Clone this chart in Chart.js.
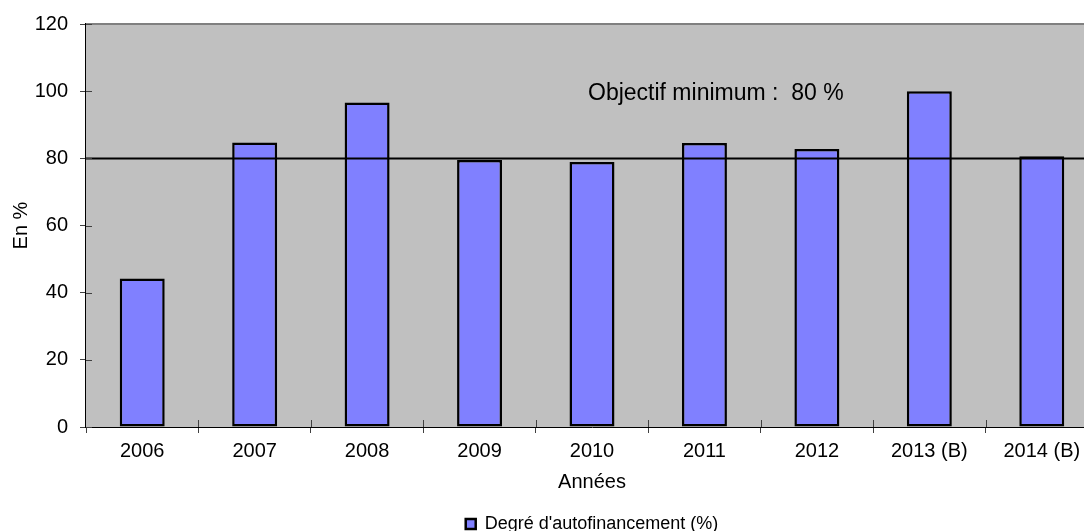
<!DOCTYPE html>
<html lang="fr">
<head>
<meta charset="utf-8">
<title>Degré d'autofinancement</title>
<script src="https://cdn.jsdelivr.net/npm/chart.js@4/dist/chart.umd.min.js"></script>
<style>
    html, body { margin: 0; padding: 0; background: #fff; overflow: hidden; }
    #wrap { position: relative; width: 1100px; height: 531px; }
</style>
</head>
<body>
<div id="wrap"><canvas id="chart"></canvas></div>
<script>
    // Données
    const annees = ['2006', '2007', '2008', '2009', '2010', '2011', '2012', '2013 (B)', '2014 (B)'];
    const degreAutofinancement = [44.2, 84.7, 96.6, 79.5, 78.9, 84.6, 82.8, 100.0, 80.6];
    const objectifMinimum = 80;
    const yTicks = [0, 20, 40, 60, 80, 100, 120];

    const FONT = "'Liberation Sans', Arial, sans-serif";

    // Fond gris de la zone de tracé, ligne d'objectif, texte et petites graduations
    const plotDecor = {
        id: 'plotDecor',
        beforeDatasetsDraw(chart) {
            const { ctx, chartArea: a } = chart;
            ctx.save();
            ctx.fillStyle = '#C0C0C0';
            ctx.fillRect(a.left, a.top, a.right - a.left, a.bottom - a.top);
            ctx.strokeStyle = '#808080';
            ctx.lineWidth = 2;
            ctx.beginPath();
            ctx.moveTo(a.left, a.top);
            ctx.lineTo(a.right, a.top);
            ctx.stroke();
            ctx.restore();
        },
        afterDatasetsDraw(chart) {
            const { ctx, chartArea: a, scales: { x, y } } = chart;
            ctx.save();
            // ligne objectif
            const yl = Math.round(y.getPixelForValue(objectifMinimum)) + 0.5;
            ctx.strokeStyle = '#000';
            ctx.lineWidth = 2;
            ctx.beginPath();
            ctx.moveTo(a.left, yl);
            ctx.lineTo(a.right, yl);
            ctx.stroke();

            // texte
            ctx.fillStyle = '#000';
            ctx.font = '23px ' + FONT;
            ctx.textBaseline = 'middle';
            ctx.textAlign = 'left';
            ctx.fillText('Objectif minimum :  80 %', a.left + 502, y.getPixelForValue(99.3));

            // graduations à l'intérieur de la zone
            ctx.strokeStyle = '#404040';
            ctx.lineWidth = 1;
            ctx.beginPath();
            yTicks.forEach(v => {
                const py = Math.round(y.getPixelForValue(v)) + 0.5;
                ctx.moveTo(a.left, py);
                ctx.lineTo(a.left + 6, py);
            });
            for (let i = 1; i < annees.length; i++) {
                const px = Math.round((x.getPixelForValue(i - 1) + x.getPixelForValue(i)) / 2) + 0.5;
                ctx.moveTo(px, a.bottom);
                ctx.lineTo(px, a.bottom - 7);
            }
            ctx.stroke();
            ctx.restore();
        }
    };

    new Chart(document.getElementById('chart'), {
        type: 'bar',
        data: {
            labels: annees,
            datasets: [{
                label: "Degré d'autofinancement (%)",
                data: degreAutofinancement,
                backgroundColor: '#8080FF',
                borderColor: '#000',
                borderWidth: 2.5,
                borderSkipped: false,
                categoryPercentage: 1.0,
                barPercentage: 0.4
            }]
        },
        options: {
            responsive: true,
            maintainAspectRatio: false,
            animation: false,
            layout: { padding: { top: 23, right: 2, left: 0, bottom: -12 } },
            plugins: {
                tooltip: { enabled: false },
                legend: {
                    position: 'bottom',
                    fullSize: false,
                    labels: {
                        color: '#000',
                        font: { family: FONT, size: 18 },
                        boxWidth: 10,
                        boxHeight: 10,
                        padding: 4
                    }
                }
            },
            scales: {
                x: {
                    offset: true,
                    grid: {
                        offset: true,
                        drawOnChartArea: false,
                        tickLength: 6,
                        tickColor: '#404040'
                    },
                    border: { color: '#000', width: 1 },
                    ticks: {
                        color: '#000',
                        font: { family: FONT, size: 20 },
                        padding: 6,
                        maxRotation: 0,
                        autoSkip: false
                    },
                    title: {
                        display: true,
                        text: 'Années',
                        color: '#000',
                        font: { family: FONT, size: 20 },
                        padding: { top: 1, bottom: 17 }
                    }
                },
                y: {
                    min: 0,
                    max: 120,
                    afterFit(scale) { scale.width = 86; },
                    afterBuildTicks(scale) { scale.ticks = yTicks.map(v => ({ value: v })); },
                    grid: {
                        drawOnChartArea: false,
                        tickLength: 6,
                        tickColor: '#404040'
                    },
                    border: { color: '#000', width: 2 },
                    ticks: {
                        color: '#000',
                        font: { family: FONT, size: 20 },
                        padding: 12
                    },
                    title: {
                        display: true,
                        text: 'En %',
                        color: '#000',
                        font: { family: FONT, size: 20 },
                        padding: { top: 9, bottom: 0 }
                    }
                }
            }
        },
        plugins: [plotDecor]
    });
</script>
</body>
</html>
